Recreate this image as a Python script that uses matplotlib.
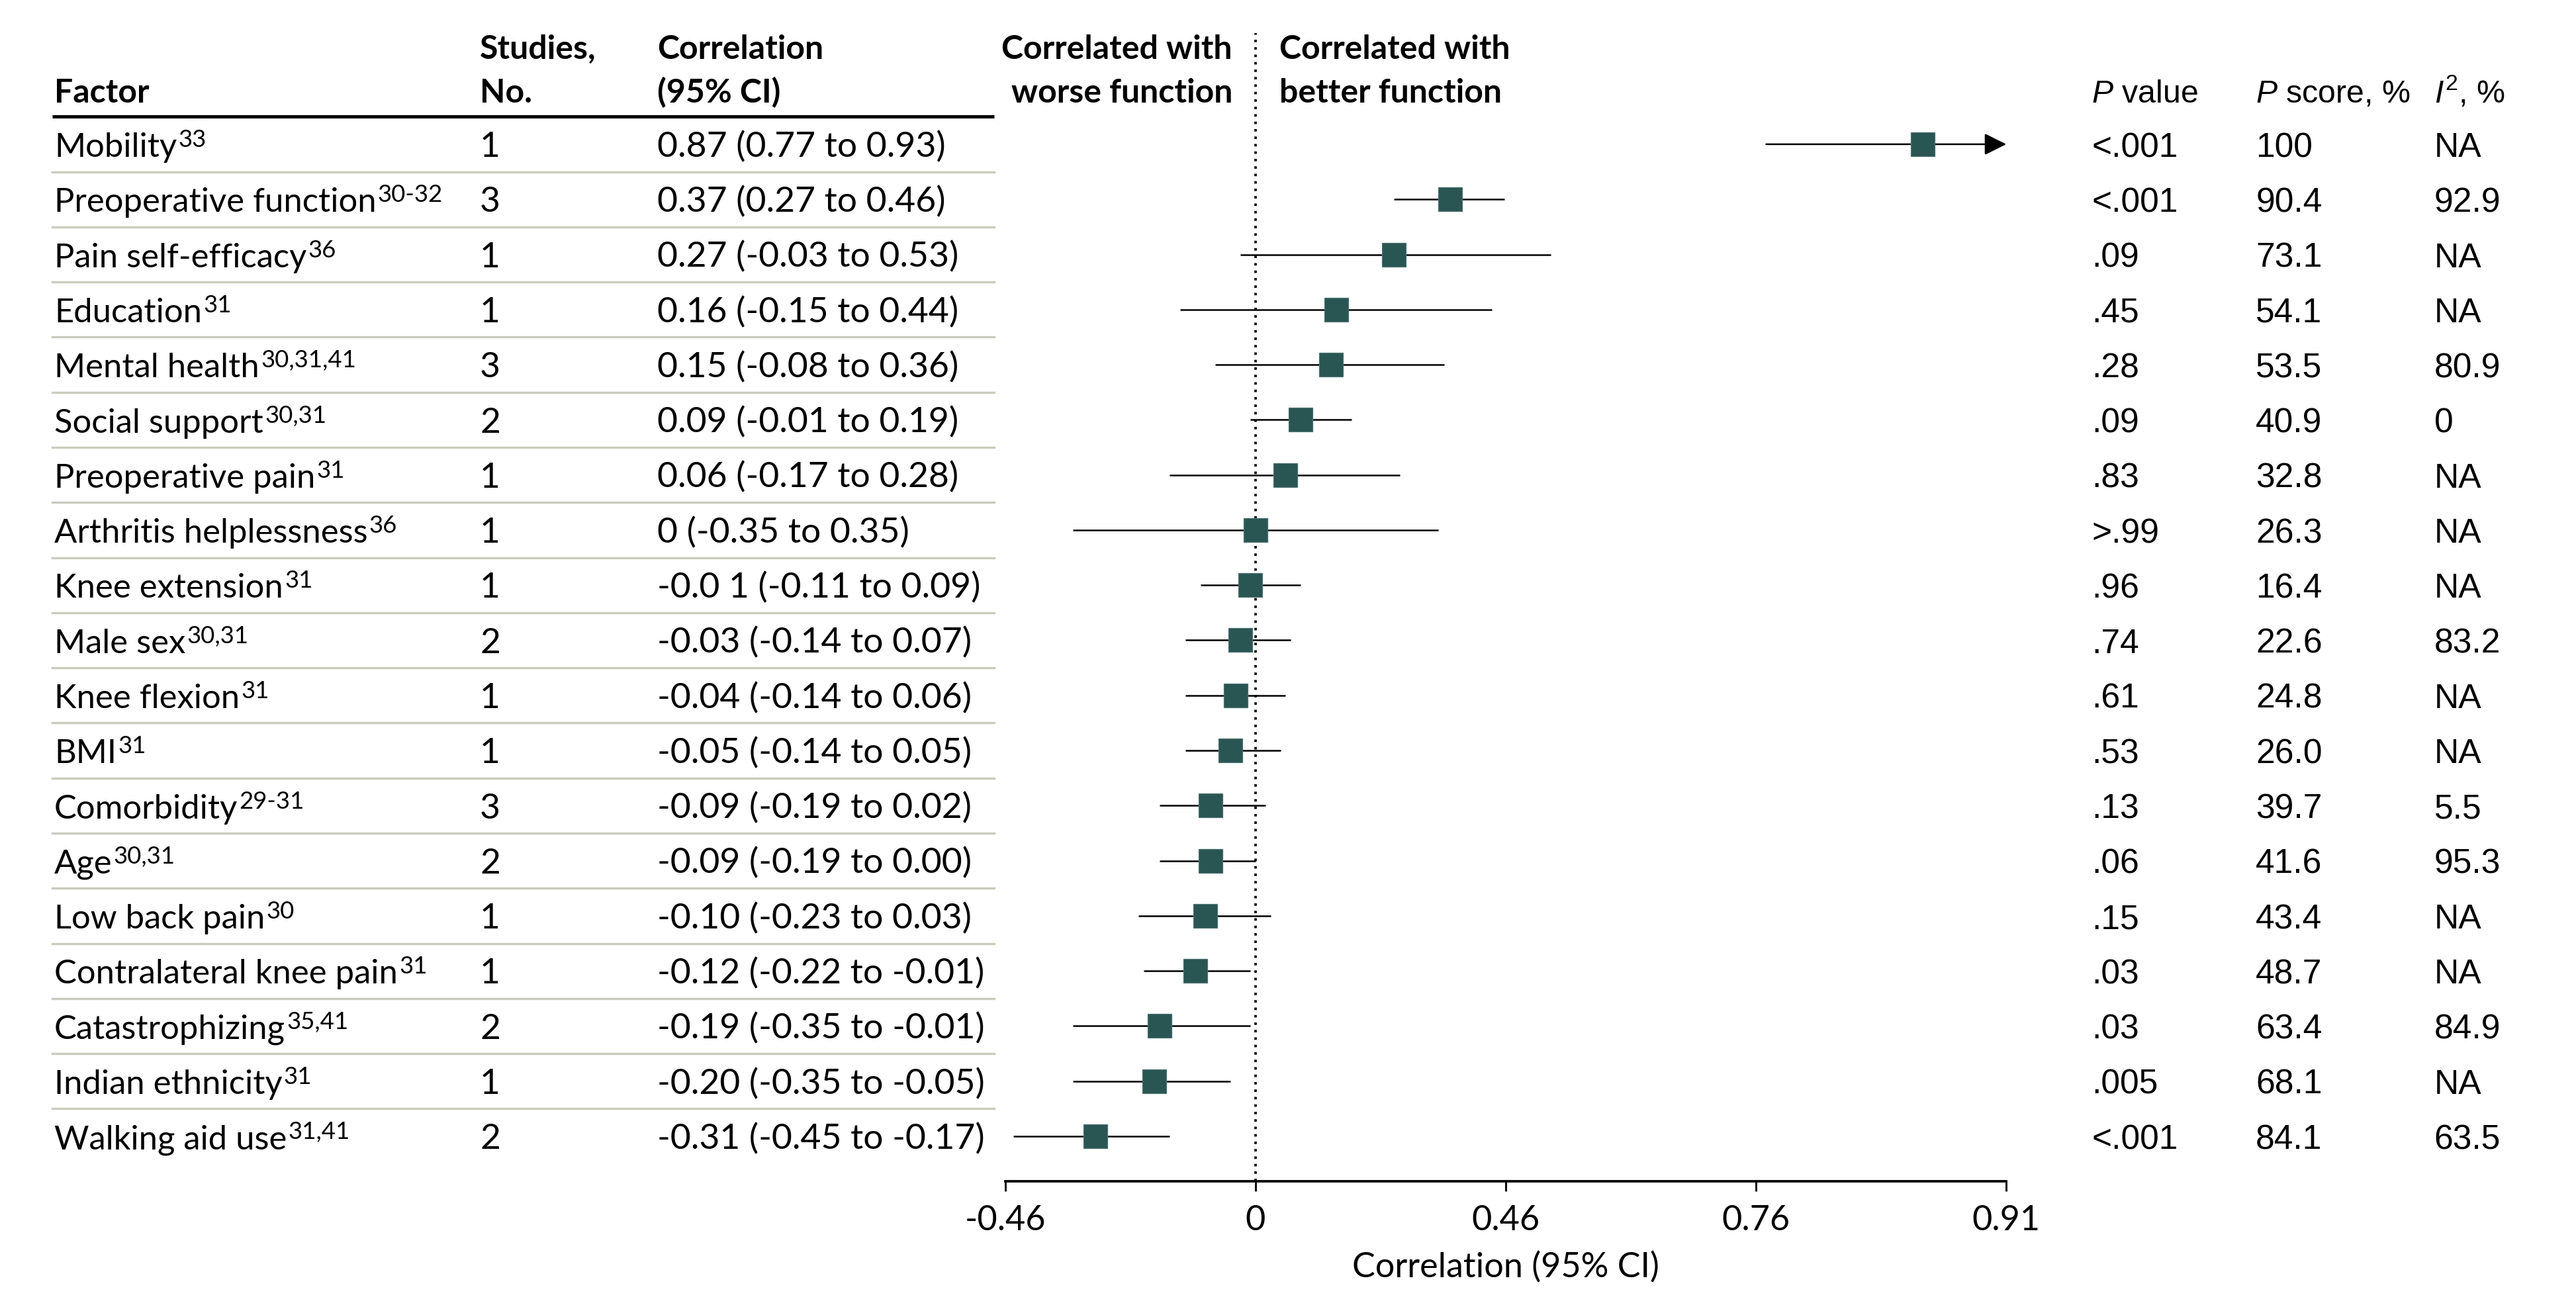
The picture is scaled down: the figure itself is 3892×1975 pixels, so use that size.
import numpy as np
import matplotlib
matplotlib.use('Agg')
import matplotlib.pyplot as plt
import matplotlib.transforms as mtransforms

plt.rcParams['font.family'] = ['Lato', 'DejaVu Sans']
plt.rcParams['mathtext.fontset'] = 'custom'
plt.rcParams['mathtext.rm'] = 'Liberation Sans'
plt.rcParams['mathtext.it'] = 'Liberation Sans:italic'

# data
factors = ['Mobility', 'Preoperative function', 'Pain self-efficacy', 'Education',
           'Mental health', 'Social support', 'Preoperative pain', 'Arthritis helplessness',
           'Knee extension', 'Male sex', 'Knee flexion', 'BMI', 'Comorbidity', 'Age',
           'Low back pain', 'Contralateral knee pain', 'Catastrophizing',
           'Indian ethnicity', 'Walking aid use']
refs = ['33', '30-32', '36', '31', '30,31,41', '30,31', '31', '36', '31', '30,31',
        '31', '31', '29-31', '30,31', '30', '31', '35,41', '31', '31,41']
studies = [1, 3, 1, 1, 3, 2, 1, 1, 1, 2, 1, 1, 3, 2, 1, 1, 2, 1, 2]
corr = [0.87, 0.37, 0.27, 0.16, 0.15, 0.09, 0.06, 0.0, -0.01, -0.03, -0.04, -0.05,
        -0.09, -0.09, -0.10, -0.12, -0.19, -0.20, -0.31]
ci_low = [0.77, 0.27, -0.03, -0.15, -0.08, -0.01, -0.17, -0.35, -0.11, -0.14, -0.14,
          -0.14, -0.19, -0.19, -0.23, -0.22, -0.35, -0.35, -0.45]
ci_high = [0.93, 0.46, 0.53, 0.44, 0.36, 0.19, 0.28, 0.35, 0.09, 0.07, 0.06, 0.05,
           0.02, 0.00, 0.03, -0.01, -0.01, -0.05, -0.17]
corr_labels = ['0.87 (0.77 to 0.93)', '0.37 (0.27 to 0.46)', '0.27 (-0.03 to 0.53)',
               '0.16 (-0.15 to 0.44)', '0.15 (-0.08 to 0.36)', '0.09 (-0.01 to 0.19)',
               '0.06 (-0.17 to 0.28)', '0 (-0.35 to 0.35)', '-0.0 1 (-0.11 to 0.09)',
               '-0.03 (-0.14 to 0.07)', '-0.04 (-0.14 to 0.06)', '-0.05 (-0.14 to 0.05)',
               '-0.09 (-0.19 to 0.02)', '-0.09 (-0.19 to 0.00)', '-0.10 (-0.23 to 0.03)',
               '-0.12 (-0.22 to -0.01)', '-0.19 (-0.35 to -0.01)', '-0.20 (-0.35 to -0.05)',
               '-0.31 (-0.45 to -0.17)']
p_values = ['<.001', '<.001', '.09', '.45', '.28', '.09', '.83', '>.99', '.96', '.74',
            '.61', '.53', '.13', '.06', '.15', '.03', '.03', '.005', '<.001']
p_scores = ['100', '90.4', '73.1', '54.1', '53.5', '40.9', '32.8', '26.3', '16.4', '22.6',
            '24.8', '26.0', '39.7', '41.6', '43.4', '48.7', '63.4', '68.1', '84.1']
i2 = ['NA', '92.9', 'NA', 'NA', '80.9', '0', 'NA', 'NA', 'NA', '83.2', 'NA', 'NA',
      '5.5', '95.3', 'NA', 'NA', '84.9', 'NA', '63.5']

# axis is on the Fisher z scale, ticks labelled with r = tanh(z)
tick_z = [-0.5, 0, 0.5, 1.0, 1.5]
tick_labels = ['-0.46', '0', '0.46', '0.76', '0.91']

teal = '#295553'
n = len(factors)
rows = np.arange(n)

fig = plt.figure(figsize=(3892 / 300, 1975 / 300), dpi=300)
ax = fig.add_axes([0.3903, 0.0962, 0.3885, 0.8785])
ax.set_xscale('function', functions=(np.arctanh, np.tanh))
xmin, xmax = np.tanh(tick_z[0]), np.tanh(tick_z[-1])
ax.set_xlim(xmin, xmax)
ax.set_ylim(18.816, -2.017)

ax.axvline(0, color='black', ls=(0, (1, 2)), lw=0.9, zorder=1)

for i in rows:
    if ci_high[i] > xmax:
        ax.annotate('', xy=(xmax, i), xytext=(ci_low[i], i),
                    arrowprops=dict(arrowstyle='-|>', color='black', lw=0.6,
                                    mutation_scale=17, shrinkA=0, shrinkB=0), zorder=2)
    else:
        ax.plot([ci_low[i], ci_high[i]], [i, i], color='black', lw=0.6,
                solid_capstyle='butt', zorder=2)
ax.plot(corr, rows, ls='none', marker='s', ms=8.5, color=teal,
        markeredgecolor='#4d7472', markeredgewidth=0.3, zorder=3)

for s in ['top', 'left', 'right']:
    ax.spines[s].set_visible(False)
ax.spines['bottom'].set_linewidth(0.9)
ax.set_yticks([])
ax.set_xticks(np.tanh(tick_z), labels=tick_labels)
ax.tick_params(axis='x', length=3.6, width=0.7, pad=5, labelsize=12.5)
ax.set_xlabel('Correlation (95% CI)', fontsize=12.5, labelpad=5.5)

# table text
trans = mtransforms.blended_transform_factory(fig.transFigure, ax.transData)
x_factor, x_studies, x_corr = 0.0211, 0.1863, 0.2551
x_p, x_score, x_i2 = 0.812, 0.8757, 0.9449
fs = 12.8
hdr = dict(transform=trans, fontsize=12, fontweight='bold', va='baseline')
right_font = dict(transform=trans, fontsize=12.4, va='baseline',
                  family=['Liberation Sans', 'DejaVu Sans'])
right_hdr = dict(right_font, fontsize=11.6)

for i in rows:
    yb = i + 0.23
    t = ax.text(x_factor, yb, factors[i], transform=trans, fontsize=12.2, va='baseline')
    ax.annotate(refs[i], xy=(1, 1), xycoords=t, xytext=(0.5, 1.2),
                textcoords='offset points', fontsize=8.8, va='top', ha='left')
    ax.text(x_studies, yb, str(studies[i]), transform=trans, fontsize=fs, va='baseline')
    ax.text(x_corr, yb, corr_labels[i], transform=trans, fontsize=fs, va='baseline')
    ax.text(x_p, yb, p_values[i], **right_font)
    ax.text(x_score, yb, p_scores[i], **right_font)
    ax.text(x_i2, yb, i2[i], **right_font)

# row separators and header rule
for i in rows[:-1]:
    ax.plot([0.0203, 0.3859], [i + 0.5, i + 0.5], transform=trans, color='#c9cbbd',
            lw=0.8, clip_on=False)
ax.plot([0.0203, 0.3859], [-0.5, -0.5], transform=trans, color='black', lw=1.2,
        clip_on=False, solid_capstyle='butt')

ax.text(x_factor, -0.75, 'Factor', **hdr)
ax.text(x_studies, -1.55, 'Studies,', **hdr)
ax.text(x_studies, -0.75, 'No.', **hdr)
ax.text(x_corr, -1.55, 'Correlation', **hdr)
ax.text(x_corr, -0.75, '(95% CI)', **hdr)
ax.text(0.4784, -1.55, 'Correlated with', ha='right', **hdr)
ax.text(0.4784, -0.75, 'worse function', ha='right', **hdr)
ax.text(0.4967, -1.55, 'Correlated with', ha='left', **hdr)
ax.text(0.4967, -0.75, 'better function', ha='left', **hdr)

ax.text(x_p, -0.75, r'$\mathit{P}$ value', **right_hdr)
ax.text(x_score, -0.75, r'$\mathit{P}$ score, %', **right_hdr)
ax.text(x_i2, -0.75, r'$\mathit{I}^{2}$, %', **right_hdr)

fig.savefig('out.png', dpi=300)
